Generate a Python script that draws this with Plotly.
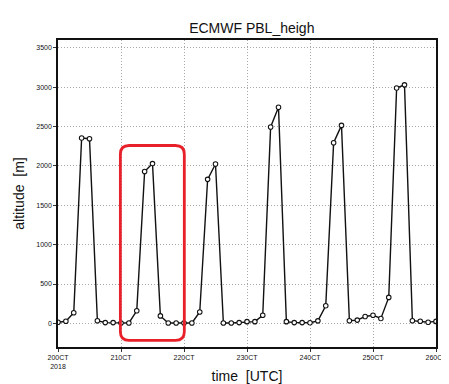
import plotly.graph_objects as go

# 3-hourly PBL height, 20 Oct 2018 00UTC .. 26 Oct 2018 00UTC
pbl_height = [
    15, 27, 135, 2355, 2346, 34, 10, 10,
    5, 5, 160, 1930, 2030, 95, 5, 5,
    5, 5, 145, 1830, 2025, 5, 5, 10,
    22, 22, 103, 2495, 2745, 22, 10, 10,
    8, 32, 224, 2295, 2515, 34, 42, 87,
    103, 63, 330, 2990, 3030, 34, 27, 15,
    25,
]
step_days = 0.125
time_days = [i * step_days for i in range(len(pbl_height))]

x_tick_vals = [0, 1, 2, 3, 4, 5, 6]
x_tick_text = ["200CT<br>2018", "210CT", "220CT", "230CT", "240CT", "250CT", "260CT"]
y_tick_vals = [0, 500, 1000, 1500, 2000, 2500, 3000, 3500]

fig = go.Figure()
fig.add_trace(go.Scatter(
    x=time_days, y=pbl_height, mode="lines+markers",
    line=dict(color="#111111", width=1.4),
    marker=dict(symbol="circle", size=4.5, color="white",
                line=dict(color="#111111", width=1.1)),
    showlegend=False,
))

# red rounded highlight box
bx0, bx1, by0, by1 = 0.99, 2.005, -215, 2260
rx, ry = 0.14, 110
path = (f"M {bx0+rx},{by1} L {bx1-rx},{by1} Q {bx1},{by1} {bx1},{by1-ry} "
        f"L {bx1},{by0+ry} Q {bx1},{by0} {bx1-rx},{by0} "
        f"L {bx0+rx},{by0} Q {bx0},{by0} {bx0},{by0+ry} "
        f"L {bx0},{by1-ry} Q {bx0},{by1} {bx0+rx},{by1} Z")
fig.add_shape(type="path", path=path, xref="x", yref="y",
              line=dict(color="#e8202a", width=2.8))

tick_font = dict(family="Liberation Sans, Arial", size=7, color="#111111")
grid = dict(showgrid=True, gridcolor="#a8a8a8", griddash="1px,2px", gridwidth=1)
fig.update_layout(
    width=449, height=384,
    margin=dict(l=48, r=10, t=32, b=30),
    paper_bgcolor="white", plot_bgcolor="white",
    title=dict(text="ECMWF PBL_heigh", x=0.543, xanchor="center",
               y=0.948, yanchor="middle",
               font=dict(family="Liberation Sans, Arial", size=14, color="#111111")),
    xaxis=dict(range=[0, 6], tickvals=x_tick_vals, ticktext=x_tick_text,
               tickfont=tick_font, ticks="outside", ticklen=3, tickcolor="#333",
               showline=True, linecolor="#111111", linewidth=1.5, mirror=True,
               zeroline=False, **grid,
               title=dict(text="time  [UTC]", standoff=2,
                          font=dict(family="Liberation Sans, Arial", size=14, color="#111111"))),
    yaxis=dict(range=[-300, 3600], tickvals=y_tick_vals,
               tickfont=tick_font, ticks="outside", ticklen=3, tickcolor="#333",
               showline=True, linecolor="#111111", linewidth=1.5, mirror=True,
               zeroline=False, **grid,
               title=dict(text="altitude  [m]", standoff=8,
                          font=dict(family="Liberation Sans, Arial", size=14, color="#111111"))),
)

fig.write_html("out.html")
